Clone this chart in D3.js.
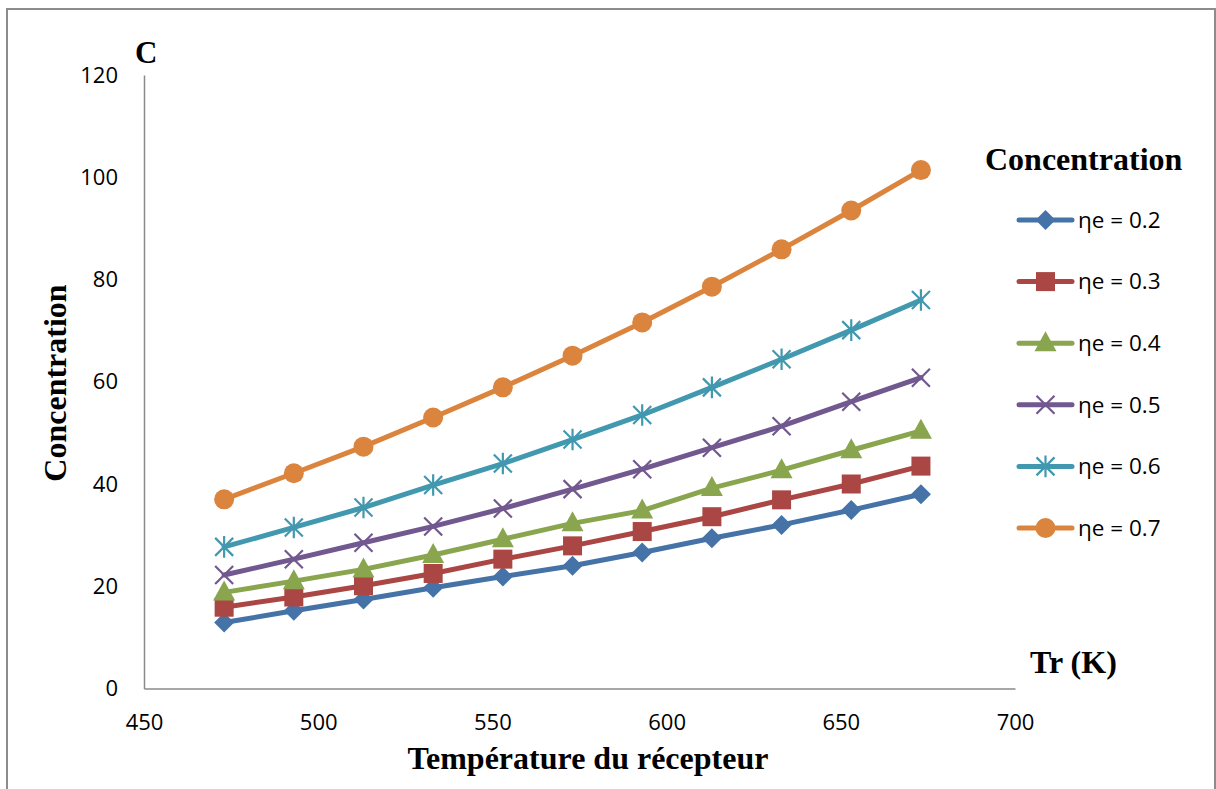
<!DOCTYPE html>
<html>
<head>
<meta charset="utf-8">
<script src="https://cdn.jsdelivr.net/npm/d3@7"></script>
<style>
  html, body { margin: 0; padding: 0; background: #fff; }
  svg { display: block; }
</style>
</head>
<body>
<svg id="chart" width="1216" height="789"></svg>
<script>
const temperatures = [473, 493, 513, 533, 553, 573, 593, 613, 633, 653, 673];
const seriesNames = ["ηe = 0.2", "ηe = 0.3", "ηe = 0.4", "ηe = 0.5", "ηe = 0.6", "ηe = 0.7"];
const eta02 = [12.9, 15.2, 17.4, 19.7, 21.9, 24.0, 26.6, 29.4, 32.0, 34.9, 38.0];
const eta03 = [15.9, 17.9, 20.1, 22.5, 25.3, 27.9, 30.7, 33.6, 36.9, 40.0, 43.5];
const eta04 = [18.8, 21.0, 23.3, 26.1, 29.2, 32.3, 34.8, 39.2, 42.7, 46.6, 50.4];
const eta05 = [22.2, 25.3, 28.5, 31.7, 35.2, 39.0, 42.9, 47.1, 51.3, 56.1, 60.8];
const eta06 = [27.7, 31.5, 35.4, 39.8, 44.0, 48.7, 53.5, 58.9, 64.4, 70.1, 76.0];
const eta07 = [37.0, 42.1, 47.3, 53.0, 58.9, 65.1, 71.6, 78.6, 85.9, 93.5, 101.4];
const xTicks = [450, 500, 550, 600, 650, 700];
const yTicks = [0, 20, 40, 60, 80, 100, 120];
const colors = ["#4572A7", "#AA4643", "#89A54E", "#71588F", "#4198AF", "#DB843D"];
const markers = ["diamond", "square", "triangle", "x", "star", "circle"];

const allSeries = [eta02, eta03, eta04, eta05, eta06, eta07];

const svg = d3.select("#chart");
const tickFont = "'Open Sans', 'Noto Sans', sans-serif";
const serif = "'Liberation Serif', 'DejaVu Serif', serif";

// outer frame
svg.append("rect").attr("x", 7).attr("y", 9).attr("width", 1208).attr("height", 800)
  .attr("fill", "none").attr("stroke", "#8c8c8c").attr("stroke-width", 2);

const x = d3.scaleLinear().domain([450, 700]).range([144, 1015]);
const y = d3.scaleLinear().domain([0, 120]).range([688.5, 75]);

// axes
const xAxis = svg.append("g").attr("transform", `translate(0,${y(0)})`)
  .call(d3.axisBottom(x).tickValues(xTicks).tickSize(0).tickPadding(24).tickFormat(d3.format("d")));
const yAxis = svg.append("g").attr("transform", `translate(${x(450)},0)`)
  .call(d3.axisLeft(y).tickValues(yTicks).tickSize(0).tickPadding(26).tickFormat(d3.format("d")));
[xAxis, yAxis].forEach(g => {
  g.select(".domain").attr("stroke", "#8a8a8a").attr("stroke-width", 1.5);
  g.selectAll("text").attr("font-family", tickFont).attr("font-size", 22).attr("fill", "#000");
});
xAxis.selectAll("text").attr("dy", "0.35em").attr("y", 34);

// marker drawing
function drawMarker(g, type, color) {
  if (type === "diamond") {
    const h = 10;
    g.append("path").attr("d", `M0,${-h}L${h},0L0,${h}L${-h},0Z`).attr("fill", color);
  } else if (type === "square") {
    const h = 9.5;
    g.append("rect").attr("x", -h).attr("y", -h).attr("width", 2 * h).attr("height", 2 * h).attr("fill", color);
  } else if (type === "triangle") {
    const w = 11, t = 12, b = 8;
    g.append("path").attr("d", `M0,${-t}L${w},${b}L${-w},${b}Z`).attr("fill", color);
  } else if (type === "circle") {
    g.append("circle").attr("r", 10).attr("fill", color);
  } else if (type === "x") {
    const h = 9;
    g.append("path").attr("d", `M${-h},${-h}L${h},${h}M${-h},${h}L${h},${-h}`)
      .attr("stroke", color).attr("stroke-width", 2.2).attr("fill", "none");
  } else if (type === "star") {
    const h = 9;
    g.append("path").attr("d", `M${-h},${-h}L${h},${h}M${-h},${h}L${h},${-h}M0,${-h * 1.2}L0,${h * 1.2}`)
      .attr("stroke", color).attr("stroke-width", 2.2).attr("fill", "none");
  }
}

const line = d3.line().x((d, i) => x(temperatures[i])).y(d => y(d));

allSeries.forEach((vals, si) => {
  svg.append("path").datum(vals).attr("d", line)
    .attr("fill", "none").attr("stroke", colors[si]).attr("stroke-width", 5)
    .attr("stroke-linejoin", "round").attr("stroke-linecap", "round");
  vals.forEach((v, i) => {
    const g = svg.append("g").attr("transform", `translate(${x(temperatures[i])},${y(v)})`);
    drawMarker(g, markers[si], colors[si]);
  });
});

// axis titles
svg.append("text").attr("x", 135).attr("y", 63).text("C")
  .attr("font-family", serif).attr("font-weight", "bold").attr("font-size", 31);
svg.append("text").attr("x", 1030).attr("y", 673).text("Tr (K)")
  .attr("font-family", serif).attr("font-weight", "bold").attr("font-size", 32);
svg.append("text").attr("x", 588).attr("y", 769).attr("text-anchor", "middle").text("Température du récepteur")
  .attr("font-family", serif).attr("font-weight", "bold").attr("font-size", 32);
svg.append("text").attr("transform", "translate(66,383) rotate(-90)").attr("text-anchor", "middle")
  .text("Concentration")
  .attr("font-family", serif).attr("font-weight", "bold").attr("font-size", 32);

// legend
svg.append("text").attr("x", 985).attr("y", 170).text("Concentration")
  .attr("font-family", serif).attr("font-weight", "bold").attr("font-size", 32);
const legendY0 = 220, legendStep = 61.6;
seriesNames.forEach((name, si) => {
  const ly = legendY0 + si * legendStep;
  const g = svg.append("g");
  g.append("line").attr("x1", 1019).attr("x2", 1072).attr("y1", ly).attr("y2", ly)
    .attr("stroke", colors[si]).attr("stroke-width", 5).attr("stroke-linecap", "round");
  const mg = g.append("g").attr("transform", `translate(1045.5,${ly})`);
  drawMarker(mg, markers[si], colors[si]);
  g.append("text").attr("x", 1078).attr("y", ly).attr("dy", "0.35em").text(name)
    .attr("font-family", tickFont).attr("font-size", 22.5).attr("fill", "#000");
});
</script>
</body>
</html>
